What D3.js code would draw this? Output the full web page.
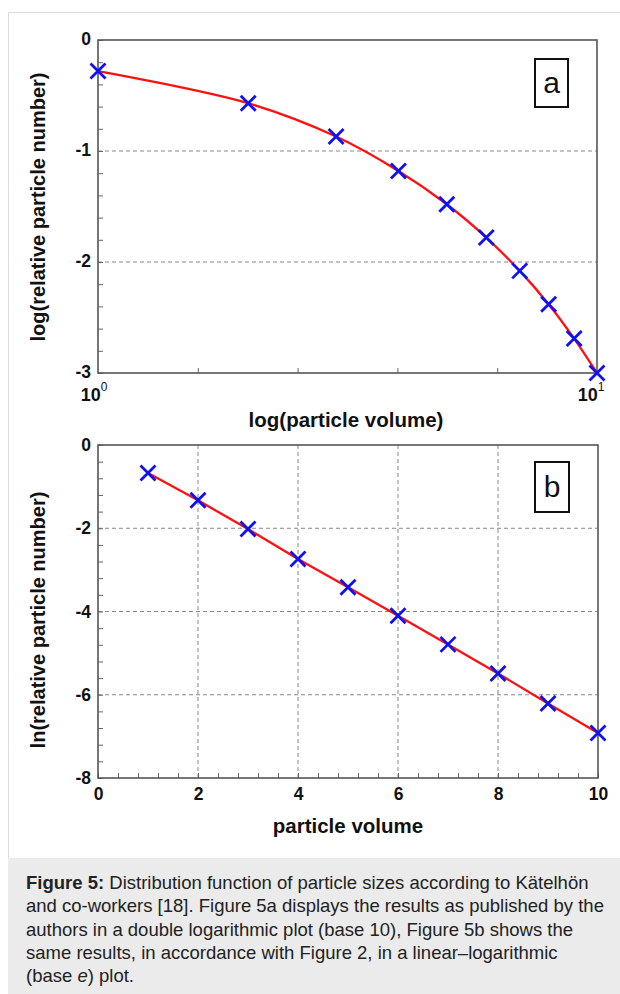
<!DOCTYPE html>
<html>
<head>
<meta charset="utf-8">
<script src="https://cdn.jsdelivr.net/npm/d3@7"></script>
<style>
body { margin: 0; background: #fff; }
svg { display: block; font-family: "Liberation Sans", Arial, sans-serif; }
</style>
</head>
<body>
<svg id="fig" width="620" height="994"></svg>
<script>
// particle volumes (same for both panels)
var volumes = [1, 2, 3, 4, 5, 6, 7, 8, 9, 10];
// panel a: log10(relative particle number)
var logNumbers = [-0.28, -0.57, -0.87, -1.18, -1.48, -1.78, -2.08, -2.38, -2.69, -3.0];
// panel b: ln(relative particle number)
var lnNumbers = [-0.67, -1.33, -2.02, -2.74, -3.42, -4.1, -4.79, -5.49, -6.21, -6.92];

var aYTicks = [0, -1, -2, -3];
var aYGrid = [-1, -2];
var bXTicks = [0, 2, 4, 6, 8, 10];
var bYTicks = [0, -2, -4, -6, -8];
var bXGrid = [2, 4, 6, 8];
var bYGrid = [-2, -4, -6];

var captionLines = [
	[{t:'Figure 5:', b:true}, {t:' Distribution function of particle sizes according to Kätelhön'}],
	[{t:'and co-workers [18]. Figure 5a displays the results as published by the'}],
	[{t:'authors in a double logarithmic plot (base 10), Figure 5b shows the'}],
	[{t:'same results, in accordance with Figure 2, in a linear–logarithmic'}],
	[{t:'(base '}, {t:'e', i:true}, {t:') plot.'}]
];

var svg = d3.select('#fig');

// figure panel + caption box
svg.append('rect').attr('x', 8.5).attr('y', 12.5).attr('width', 620).attr('height', 846)
	.attr('fill', '#fff').attr('stroke', '#dcdcdc');
svg.append('rect').attr('x', 8).attr('y', 858).attr('width', 612).attr('height', 136)
	.attr('fill', '#ebebeb');

var cap = svg.append('text').attr('font-size', 18.5).attr('fill', '#222');
captionLines.forEach(function(line, i) {
	line.forEach(function(part, j) {
		var ts = cap.append('tspan').text(part.t);
		if (j == 0) ts.attr('x', 26).attr('y', 889 + i * 23.3);
		if (part.b) ts.attr('font-weight', 'bold');
		if (part.i) ts.attr('font-style', 'italic');
	});
});

function crosses(g, pts, x, y)
{
	var s = 7.5;
	g.selectAll('path.cross').data(pts).enter().append('path')
		.attr('class', 'cross')
		.attr('d', d => {
			var cx = x(d[0]), cy = y(d[1]);
			return 'M' + (cx - s) + ',' + (cy - s) + 'L' + (cx + s) + ',' + (cy + s) +
				'M' + (cx - s) + ',' + (cy + s) + 'L' + (cx + s) + ',' + (cy - s);
		})
		.attr('stroke', '#1010f0').attr('stroke-width', 2.8).attr('fill', 'none');
}

function labelBox(g, x0, y0, w, h, txt)
{
	g.append('rect').attr('x', x0).attr('y', y0).attr('width', w).attr('height', h)
		.attr('fill', '#fff').attr('stroke', '#111').attr('stroke-width', 2);
	g.append('text').attr('x', x0 + w / 2).attr('y', y0 + h / 2 + 10)
		.attr('text-anchor', 'middle').attr('font-size', 30).attr('fill', '#111').text(txt);
}

function frame(g, x, y)
{
	var r = x.range(), t = y.range();
	g.append('rect').attr('x', r[0]).attr('y', t[1]).attr('width', r[1] - r[0]).attr('height', t[0] - t[1])
		.attr('fill', 'none').attr('stroke', '#555').attr('stroke-width', 1.6);
}

function styleAxis(sel)
{
	sel.select('.domain').remove();
	sel.selectAll('line').attr('stroke', '#666').attr('stroke-width', 1);
	sel.selectAll('text').attr('font-weight', 'bold').attr('font-size', 17.5).attr('fill', '#111')
		.attr('font-family', '"Liberation Sans", Arial, sans-serif');
}

// ---------- panel a ----------
var ga = svg.append('g');
var xa = d3.scaleLog().domain([1, 10]).range([98, 597]);
var ya = d3.scaleLinear().domain([-3, 0]).range([373, 40]);

ga.append('g').selectAll('line').data(aYGrid).enter().append('line')
	.attr('x1', 98).attr('x2', 597).attr('y1', d => ya(d)).attr('y2', d => ya(d))
	.attr('stroke', '#888').attr('stroke-dasharray', '4,3');

var aMinorY = d3.range(-3, 0.001, 0.2);
ga.append('g').attr('transform', 'translate(98,0)')
	.call(d3.axisLeft(ya).tickValues(aMinorY).tickSize(-5).tickFormat(''))
	.call(styleAxis);
var aMinorX = [1, 2, 3, 4].map(k => Math.pow(10, k / 5));
ga.append('g').attr('transform', 'translate(0,373)')
	.call(d3.axisBottom(xa).tickValues(aMinorX).tickSize(-5).tickFormat(''))
	.call(styleAxis);

ga.append('g').attr('transform', 'translate(98,-1)')
	.call(d3.axisLeft(ya).tickValues(aYTicks).tickSize(0).tickPadding(7).tickFormat(d => String(d)))
	.call(styleAxis);

// x tick labels 10^0, 10^1
[1, 10].forEach(function(v, i) {
	var t = ga.append('text').attr('x', xa(v) + (i ? -6 : -4)).attr('y', 401)
		.attr('text-anchor', 'middle').attr('font-weight', 'bold').attr('font-size', 18).attr('fill', '#111');
	t.append('tspan').text('10');
	t.append('tspan').attr('dy', -10).attr('font-size', 12).attr('font-weight', 'normal').text(String(Math.log10(v)));
});

frame(ga, xa, ya);

var lineA = d3.line().x(d => xa(d[0])).y(d => ya(d[1])).curve(d3.curveCatmullRom);
var ptsA = volumes.map((v, i) => [v, logNumbers[i]]);
ga.append('path').datum(ptsA).attr('d', lineA).attr('fill', 'none')
	.attr('stroke', '#ff1010').attr('stroke-width', 2.3);
crosses(ga, ptsA, xa, ya);
labelBox(ga, 535, 59, 33, 48, 'a');

ga.append('text').attr('transform', 'translate(45,207) rotate(-90)').attr('text-anchor', 'middle')
	.attr('font-weight', 'bold').attr('font-size', 20).attr('fill', '#111').text('log(relative particle number)');
ga.append('text').attr('x', 346).attr('y', 427).attr('text-anchor', 'middle')
	.attr('font-weight', 'bold').attr('font-size', 20.5).attr('fill', '#111').text('log(particle volume)');

// ---------- panel b ----------
var gb = svg.append('g');
var xb = d3.scaleLinear().domain([0, 10]).range([98, 598]);
var yb = d3.scaleLinear().domain([-8, 0]).range([778, 445]);

gb.append('g').selectAll('line').data(bYGrid).enter().append('line')
	.attr('x1', 98).attr('x2', 598).attr('y1', d => yb(d)).attr('y2', d => yb(d))
	.attr('stroke', '#888').attr('stroke-dasharray', '4,3');
gb.append('g').selectAll('line').data(bXGrid).enter().append('line')
	.attr('y1', 445).attr('y2', 778).attr('x1', d => xb(d)).attr('x2', d => xb(d))
	.attr('stroke', '#888').attr('stroke-dasharray', '4,3');

gb.append('g').attr('transform', 'translate(98,0)')
	.call(d3.axisLeft(yb).tickValues(d3.range(-8, 0.001, 0.4)).tickSize(-5).tickFormat(''))
	.call(styleAxis);
gb.append('g').attr('transform', 'translate(0,778)')
	.call(d3.axisBottom(xb).tickValues(d3.range(0, 10.001, 0.4)).tickSize(-5).tickFormat(''))
	.call(styleAxis);

gb.append('g').attr('transform', 'translate(98,0)')
	.call(d3.axisLeft(yb).tickValues(bYTicks).tickSize(0).tickPadding(7).tickFormat(d => String(d)))
	.call(styleAxis);
gb.append('g').attr('transform', 'translate(0,778)')
	.call(d3.axisBottom(xb).tickValues(bXTicks).tickSize(0).tickPadding(10).tickFormat(d => String(d)))
	.call(styleAxis);

frame(gb, xb, yb);

var lineB = d3.line().x(d => xb(d[0])).y(d => yb(d[1]));
var ptsB = volumes.map((v, i) => [v, lnNumbers[i]]);
gb.append('path').datum(ptsB).attr('d', lineB).attr('fill', 'none')
	.attr('stroke', '#ff1010').attr('stroke-width', 2.3);
crosses(gb, ptsB, xb, yb);
labelBox(gb, 535, 462, 34, 50, 'b');

gb.append('text').attr('transform', 'translate(45,620) rotate(-90)').attr('text-anchor', 'middle')
	.attr('font-weight', 'bold').attr('font-size', 20).attr('fill', '#111').text('ln(relative particle number)');
gb.append('text').attr('x', 348).attr('y', 833).attr('text-anchor', 'middle')
	.attr('font-weight', 'bold').attr('font-size', 20.5).attr('fill', '#111').text('particle volume');
</script>
</body>
</html>
